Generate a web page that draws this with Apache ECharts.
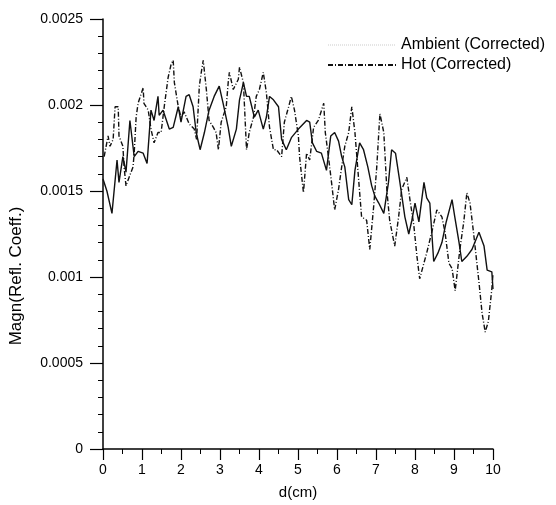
<!DOCTYPE html>
<html>
<head>
<meta charset="utf-8">
<script src="https://cdn.jsdelivr.net/npm/echarts@6/dist/echarts.min.js"></script>
<style>
  html, body { margin: 0; padding: 0; background: #fff; }
  #chart { width: 556px; height: 505px; }
</style>
</head>
<body>
<div id="chart"></div>
<script>
/* global echarts */
// values
const ambientX = [0, 0.1, 0.23, 0.36, 0.41, 0.51, 0.59, 0.69, 0.8, 0.9, 1.03, 1.13, 1.23, 1.31, 1.41, 1.44, 1.54, 1.7, 1.8, 1.93,
    2.0, 2.13, 2.21, 2.31, 2.39, 2.49, 2.6, 2.72, 2.85, 2.98, 3.08, 3.21, 3.29, 3.42, 3.5, 3.6, 3.68, 3.75, 3.88, 3.98,
    4.11, 4.19, 4.27, 4.37, 4.5, 4.58, 4.7, 4.83, 5.01, 5.22, 5.3, 5.37, 5.48, 5.6, 5.73, 5.84, 5.94, 6.04, 6.12, 6.2,
    6.3, 6.38, 6.46, 6.58, 6.68, 6.79, 6.89, 6.97, 7.07, 7.2, 7.32, 7.4, 7.5, 7.6, 7.74, 7.84, 7.92, 8.0, 8.1, 8.23,
    8.3, 8.38, 8.48, 8.59, 8.69, 8.8, 8.95, 9.02, 9.13, 9.2, 9.33, 9.46, 9.64, 9.77, 9.85, 9.97, 10.0];
const ambientY = [0.00157, 0.0015, 0.00137, 0.00168, 0.00155, 0.0017, 0.00161, 0.00191, 0.0017, 0.00173, 0.00172, 0.00166, 0.00197, 0.00191, 0.00205, 0.00194, 0.00197, 0.00186, 0.00187, 0.00199,
    0.0019, 0.00205, 0.00206, 0.00199, 0.00184, 0.00174, 0.00184, 0.00197, 0.00205, 0.00211, 0.00201, 0.00187, 0.00176, 0.00186, 0.00203, 0.00213, 0.00205, 0.00205, 0.00193, 0.00197,
    0.00186, 0.00193, 0.00205, 0.00203, 0.00199, 0.0018, 0.00174, 0.00181, 0.00186, 0.00191, 0.0019, 0.00178, 0.00173, 0.00172, 0.00162, 0.00182, 0.00184, 0.00179, 0.0017, 0.00164,
    0.00145, 0.00142, 0.00162, 0.00178, 0.00174, 0.00164, 0.00153, 0.00147, 0.00143, 0.00137, 0.00155, 0.00174, 0.00172, 0.00157, 0.00135, 0.00125, 0.00133, 0.00143, 0.00132, 0.00155,
    0.00146, 0.00143, 0.00109, 0.00114, 0.0012, 0.00132, 0.00145, 0.00135, 0.0012, 0.00109, 0.00112, 0.00116, 0.00126, 0.00118, 0.00104, 0.00103, 0.00093];

const hotX = [0.03, 0.13, 0.18, 0.26, 0.31, 0.39, 0.41, 0.51, 0.54, 0.59, 0.67, 0.77, 0.8, 0.85, 0.9, 1.03, 1.05, 1.16, 1.23, 1.31,
    1.41, 1.49, 1.57, 1.67, 1.75, 1.8, 1.83, 1.93, 2.0, 2.08, 2.21, 2.34, 2.4, 2.47, 2.52, 2.57, 2.65, 2.72, 2.83, 2.9,
    2.96, 3.03, 3.16, 3.21, 3.24, 3.34, 3.47, 3.5, 3.6, 3.68, 3.75, 3.86, 3.93, 4.01, 4.11, 4.19, 4.27, 4.37, 4.45, 4.58,
    4.65, 4.76, 4.83, 4.91, 5.01, 5.04, 5.14, 5.22, 5.3, 5.4, 5.52, 5.66, 5.7, 5.78, 5.86, 5.94, 6.04, 6.12, 6.2, 6.3,
    6.38, 6.46, 6.55, 6.63, 6.76, 6.84, 6.94, 7.02, 7.1, 7.2, 7.28, 7.35, 7.48, 7.58, 7.66, 7.79, 7.87, 7.97, 8.05, 8.12,
    8.3, 8.43, 8.56, 8.69, 8.77, 8.87, 8.95, 9.03, 9.15, 9.25, 9.33, 9.41, 9.5, 9.64, 9.72, 9.8, 9.88, 9.97, 10.0];
const hotY = [0.0017, 0.00182, 0.00176, 0.0018, 0.00199, 0.00199, 0.00182, 0.00176, 0.00164, 0.00153, 0.00158, 0.00164, 0.00172, 0.00193, 0.00201, 0.0021, 0.00201, 0.00197, 0.00186, 0.00178,
    0.00184, 0.00184, 0.00199, 0.00216, 0.00224, 0.00226, 0.00213, 0.00199, 0.00193, 0.00196, 0.00189, 0.00186, 0.0018, 0.00211, 0.00219, 0.00226, 0.00209, 0.00191, 0.00187, 0.00184,
    0.00174, 0.0019, 0.00199, 0.00213, 0.00219, 0.00209, 0.00215, 0.00222, 0.00213, 0.00174, 0.00184, 0.00193, 0.00205, 0.00209, 0.00219, 0.00207, 0.00187, 0.00174, 0.00174, 0.0017,
    0.0019, 0.00199, 0.00205, 0.00197, 0.00182, 0.0017, 0.00149, 0.00172, 0.00168, 0.00187, 0.00191, 0.00201, 0.00184, 0.0017, 0.00155, 0.00139, 0.00151, 0.00164, 0.00176, 0.00184,
    0.00199, 0.00184, 0.00158, 0.00135, 0.00133, 0.00116, 0.00141, 0.00164, 0.00195, 0.00184, 0.0015, 0.00133, 0.00118, 0.00135, 0.00151, 0.00158, 0.00145, 0.0013, 0.00112, 0.00099,
    0.00114, 0.00126, 0.00139, 0.00135, 0.00126, 0.00108, 0.00105, 0.00092, 0.00116, 0.00132, 0.00149, 0.00143, 0.00126, 0.00097, 0.00079, 0.00068, 0.00074, 0.00093, 0.00102];

const xTicks = { min: 0, max: 10, step: 1 };
const yTicks = { min: 0, max: 0.0025, step: 0.0005 };

const zip = (xs, ys) => xs.map((x, i) => [x, ys[i]]);
const font = '"Liberation Sans", Arial, sans-serif';

const chart = echarts.init(document.getElementById('chart'));

const option = {
    animation: false,
    backgroundColor: '#fff',
    textStyle: { fontFamily: font, color: '#000' },
    grid: { left: 102, right: 63, top: 19, bottom: 55 },
    legend: {
        left: 322,
        top: 32,
        orient: 'vertical',
        itemWidth: 68,
        itemHeight: 14,
        itemGap: 4,
        textStyle: { fontSize: 16, color: '#000', fontFamily: font },
        data: [
            { name: 'Ambient (Corrected)', itemStyle: { opacity: 0 }, lineStyle: { color: '#ccc', type: 'dotted', width: 1 } },
            { name: 'Hot (Corrected)', itemStyle: { opacity: 0 } }
        ]
    },
    xAxis: {
        type: 'value',
        min: xTicks.min,
        max: xTicks.max,
        interval: xTicks.step,
        name: 'd(cm)',
        nameLocation: 'middle',
        nameGap: 36,
        nameTextStyle: { fontSize: 15, color: '#000' },
        axisLine: { onZero: false, lineStyle: { color: '#000', width: 1.5 } },
        axisTick: { length: 11, lineStyle: { color: '#000', width: 1.2 } },
        minorTick: { show: true, splitNumber: 2, length: 5, lineStyle: { color: '#000' } },
        axisLabel: { fontSize: 14, color: '#000', margin: 14 },
        splitLine: { show: false }
    },
    yAxis: {
        type: 'value',
        min: yTicks.min,
        max: yTicks.max,
        interval: yTicks.step,
        name: 'Magn(Refl. Coeff.)',
        nameLocation: 'middle',
        nameGap: 78,
        nameTextStyle: { fontSize: 17, color: '#000', padding: [0, 84, 0, 0] },
        axisLine: { show: true, lineStyle: { color: '#000', width: 1.5 } },
        axisTick: { length: 13, lineStyle: { color: '#000', width: 1.2 } },
        minorTick: { show: true, splitNumber: 5, length: 5, lineStyle: { color: '#000' } },
        axisLabel: { fontSize: 14, color: '#000', margin: 20 },
        splitLine: { show: false }
    },
    series: [
        {
            name: 'Ambient (Corrected)',
            type: 'line',
            symbol: 'none',
            data: zip(ambientX, ambientY),
            lineStyle: { color: '#111', width: 1.4, type: 'solid' },
            itemStyle: { color: '#111' }
        },
        {
            name: 'Hot (Corrected)',
            type: 'line',
            symbol: 'none',
            data: zip(hotX, hotY),
            lineStyle: { color: '#111', width: 1.4, type: [5, 2, 1, 2] },
            itemStyle: { color: '#111' }
        }
    ]
};

chart.setOption(option);
</script>
</body>
</html>
